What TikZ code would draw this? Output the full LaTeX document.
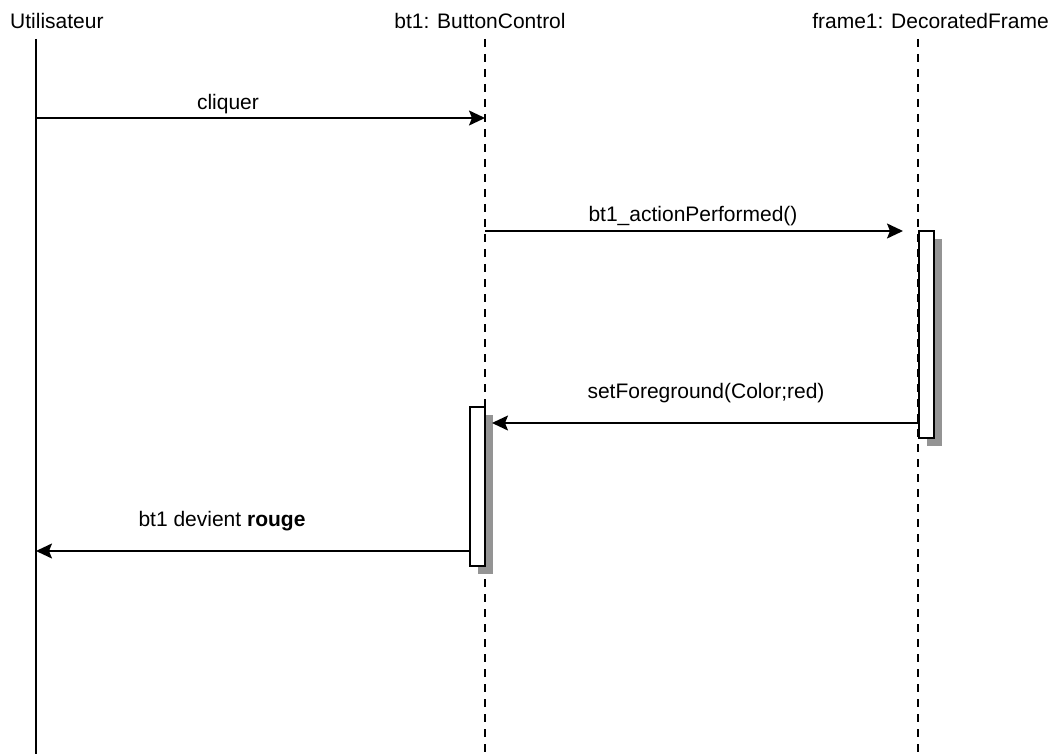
\documentclass[tikz,border=0pt]{standalone}
\usepackage{fontspec}
\setmainfont{Liberation Sans}
\usetikzlibrary{arrows.meta,shadows}

\tikzset{
  lifehead/.style={anchor=base, inner sep=0pt, font=\fontsize{21}{25}\selectfont},
  msglabel/.style={anchor=base, inner sep=0pt, font=\fontsize{21}{25}\selectfont},
  actorline/.style={line width=1.6pt},
  objline/.style={line width=1.4pt, dash pattern=on 8pt off 7pt},
  actbox/.style={draw, line width=1.6pt, fill=white, minimum width=15pt,
    inner sep=0pt, drop shadow={shadow xshift=8pt, shadow yshift=-8pt,
    fill=black!42, opacity=1}},
  msg/.style={line width=1.6pt, -{Stealth[length=16pt, width=15pt, inset=3pt]}}
}

\begin{document}
\begin{tikzpicture}[x=1pt, y=-1pt]
\useasboundingbox (0,0) rectangle (1055,754);

% participant headings
\node[lifehead, anchor=base west] (user) at (10,29) {Utilisateur};
\node[lifehead] (btn) at (480,29) {bt1: ButtonControl};
\node[lifehead, anchor=base east] (frame) at (1049,29) {frame1: DecoratedFrame};

% lifelines
\coordinate (uTop) at (36,39);   \coordinate (uBot) at (36,754);
\coordinate (bTop) at (485,39);  \coordinate (bBot) at (485,754);
\coordinate (fTop) at (918,39);  \coordinate (fBot) at (918,754);
\draw[actorline] (uTop) -- (uBot);
\draw[objline] (bTop) -- (bBot);
\draw[objline] (fTop) -- (fBot);

% activation bars
\node[actbox, minimum height=207pt] (actF) at (926.5,334.5) {};
\node[actbox, minimum height=159pt] (actB) at (477.5,486.5) {};

% message end points
\coordinate (u1) at (36,118);   \coordinate (b1) at (485,118);
\coordinate (b2) at (485,231);  \coordinate (f2) at (903,231);
\coordinate (f3) at (actF.west |- 0,423); \coordinate (b3) at (492,423);
\coordinate (b4) at (actB.west |- 0,551); \coordinate (u4) at (36,551);

% messages
\draw[msg] (u1) -- (b1);
\draw[msg] (b2) -- (f2);
\draw[msg] (f3) -- (b3);
\draw[msg] (b4) -- (u4);

% message labels
\node[msglabel] (l1) at (228,110) {cliquer};
\node[msglabel] (l2) at (693,222) {bt1\_actionPerformed()};
\node[msglabel] (l3) at (706,398) {setForeground(Color;red)};
\node[msglabel] (l4) at (222,526) {bt1 devient \textbf{rouge}};
\end{tikzpicture}
\end{document}
